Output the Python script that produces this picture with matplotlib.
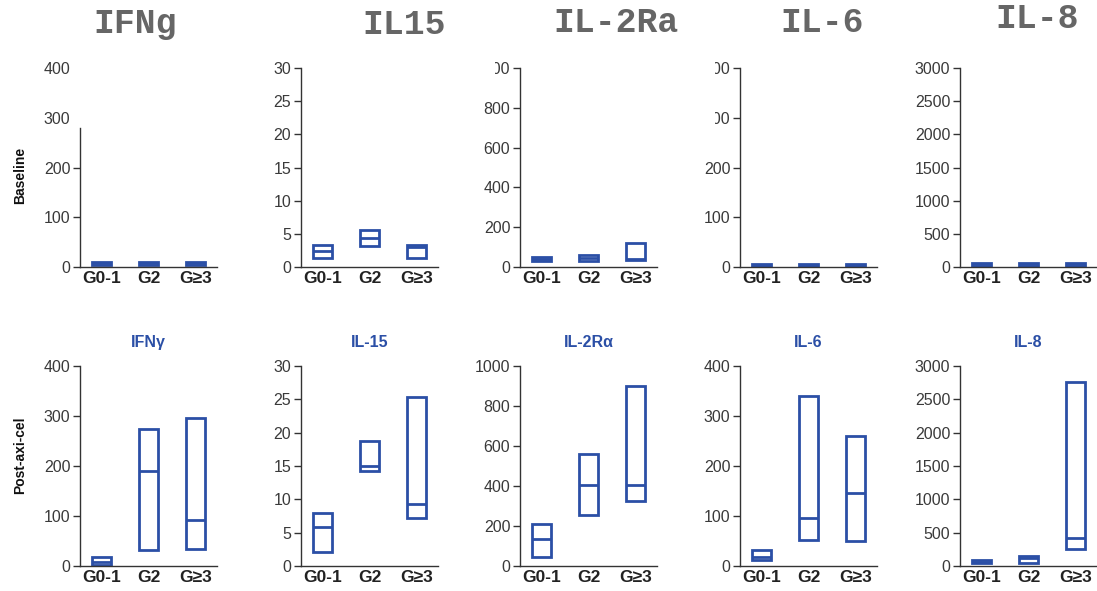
import matplotlib
matplotlib.use("Agg")
import matplotlib.pyplot as plt
from matplotlib.transforms import Bbox, TransformedBbox

plt.rcParams['font.family'] = ['Liberation Sans', 'DejaVu Sans']

grades = ["G0-1", "G2", "G\u22653"]

# Top-row panel headings and bottom-row panel titles
top_titles = ["IFNg", "IL15", "IL-2Ra", "IL-6", "IL-8"]
bottom_titles = ["IFN\u03b3", "IL-15", "IL-2R\u03b1", "IL-6", "IL-8"]

# Y-axis ceilings and tick steps for each cytokine
y_max = [400, 30, 1000, 400, 3000]
y_step = [100, 5, 200, 100, 500]

# Baseline ranges: (low, median, high) per grade
base_ifng = [(5, 8, 11), (5, 8, 11), (5, 8, 11)]
base_il15 = [(1.4, 2.4, 3.25), (3.15, 4.4, 5.65), (1.35, 3.0, 3.25)]
base_il2ra = [(32, 42, 52), (32, 47, 62), (33, 40, 122)]
base_il6 = [(2, 4, 6), (2, 4, 6), (2, 4, 6)]
base_il8 = [(15, 40, 65), (15, 40, 65), (15, 40, 65)]

# Post-axi-cel ranges: (low, median, high) per grade
post_ifng = [(3, 9, 18), (32, 190, 275), (35, 92, 297)]
post_il15 = [(2.1, 5.9, 7.9), (14.25, 15.0, 18.7), (7.2, 9.25, 25.35)]
post_il2ra = [(43, 133, 212), (255, 403, 562), (327, 405, 900)]
post_il6 = [(13, 18, 33), (52, 96, 340), (51, 146, 261)]
post_il8 = [(40, 60, 85), (50, 120, 150), (260, 415, 2760)]

baseline = [base_ifng, base_il15, base_il2ra, base_il6, base_il8]
post = [post_ifng, post_il15, post_il2ra, post_il6, post_il8]

W, H = 1097, 591
fig = plt.figure(figsize=(W / 100, H / 100), dpi=100)

BLUE = "#2b4fa6"
AX_COLOR = "#333333"
col_left = [80, 301, 520, 740, 960]
ax_w = 137
row_top = [68, 366]
row_bottom = [267, 566]


def px_axes(left, top, bottom):
    return fig.add_axes([left / W, 1 - bottom / H, ax_w / W, (bottom - top) / H])


def draw_ranges(ax, ranges, ymax, step):
    xs = range(len(grades))
    lows = [r[0] for r in ranges]
    meds = [r[1] for r in ranges]
    highs = [r[2] for r in ranges]
    width = 0.4
    ax.bar(list(xs), [h - l for h, l in zip(highs, lows)], bottom=lows,
           width=width, fill=False, edgecolor=BLUE, linewidth=2.0)
    ax.hlines(meds, [x - width / 2 for x in xs], [x + width / 2 for x in xs],
              color=BLUE, linewidth=2.0)
    ax.set_xlim(-0.45, 2.45)
    ax.set_ylim(0, ymax)
    ax.set_yticks(list(range(0, ymax + 1, step)))
    ax.set_xticks(list(xs))
    ax.set_xticklabels(grades, fontsize=12.5, fontweight="bold", color="#222222")
    ax.tick_params(axis="x", length=0, pad=3)
    ax.tick_params(axis="y", length=5, width=1, color=AX_COLOR,
                   labelsize=11.5, labelcolor="#3a3a3a", pad=2)
    for s in ("top", "right"):
        ax.spines[s].set_visible(False)
    for s in ("left", "bottom"):
        ax.spines[s].set_color(AX_COLOR)
        ax.spines[s].set_linewidth(1.0)


top_axes = []
for i in range(5):
    ax = px_axes(col_left[i], row_top[0], row_bottom[0])
    draw_ranges(ax, baseline[i], y_max[i], y_step[i])
    top_axes.append(ax)

    ax2 = px_axes(col_left[i], row_top[1], row_bottom[1])
    draw_ranges(ax2, post[i], y_max[i], y_step[i])
    ax2.set_title(bottom_titles[i], fontsize=11.5, fontweight="bold",
                  color=BLUE, pad=14)

# Left spine of the baseline IFNg panel stops short of the top ticks
ax0 = top_axes[0]
ax0.spines["left"].set_bounds(0, 280)
for t, v in zip(ax0.yaxis.get_major_ticks(), ax0.get_yticks()):
    if v > 280:
        t.tick1line.set_visible(False)

# Trimmed upper tick labels on the baseline IL-2Ra and IL-6 panels
for idx, clip_left, v_min in ((2, 495, 1000), (3, 715, 300)):
    ax = top_axes[idx]
    clip = TransformedBbox(Bbox.from_extents(clip_left / W, 0, 1, 1),
                           fig.transFigure)
    for t, v in zip(ax.yaxis.get_major_ticks(), ax.get_yticks()):
        if v >= v_min:
            t.label1.set_clip_on(True)
            t.label1.set_clip_box(clip)

# Large headings above the baseline row
title_pos = [(135, 23), (404, 24), (616, 22), (822, 23), (1037, 18)]
for txt, (x, y) in zip(top_titles, title_pos):
    fig.text(x / W, 1 - y / H, txt, ha="center", va="center",
             fontsize=25, fontweight="bold", color="#666666",
             family=["Liberation Mono", "DejaVu Sans Mono"])

# Row labels
fig.text(20 / W, 1 - 175 / H, "Baseline", rotation=90, ha="center",
         va="center", fontsize=10, fontweight="bold", color="#111111")
fig.text(20 / W, 1 - 455 / H, "Post-axi-cel", rotation=90, ha="center",
         va="center", fontsize=10, fontweight="bold", color="#111111")

fig.savefig("out.png", dpi=100, facecolor="white")
